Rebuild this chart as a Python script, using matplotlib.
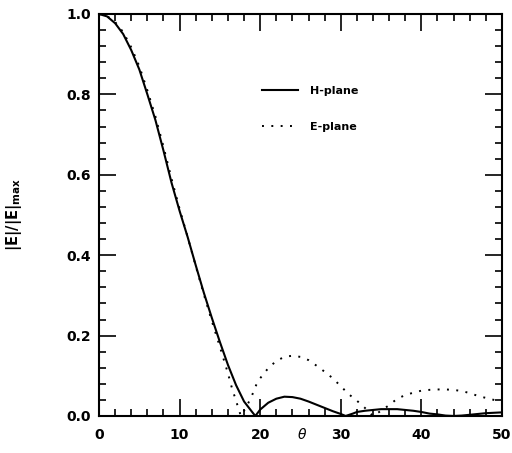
import matplotlib
matplotlib.use("Agg")
import matplotlib.pyplot as plt
import matplotlib.transforms as mtransforms
from matplotlib.ticker import MultipleLocator, FormatStrFormatter


# values (theta in degrees)
theta_h = [0, 1, 2, 3, 4, 5, 6, 7, 8, 9, 10, 11, 12, 13, 14, 15, 16, 17, 18, 19, 19.4,
           20, 21, 22, 23, 24, 25, 26, 27, 28, 29, 30, 30.6, 31.5, 32, 33, 34, 35, 36,
           37, 38, 39, 40, 41, 42, 43, 44, 45, 46, 47, 48, 49, 50]
h_plane = [1.0, 0.994, 0.977, 0.950, 0.910, 0.862, 0.800, 0.736, 0.660, 0.580, 0.510,
           0.445, 0.375, 0.307, 0.244, 0.184, 0.127, 0.077, 0.036, 0.010, 0.0,
           0.016, 0.033, 0.043, 0.048, 0.047, 0.043, 0.036, 0.028, 0.020, 0.012, 0.005,
           0.0, 0.006, 0.010, 0.013, 0.015, 0.017, 0.017, 0.017, 0.015, 0.013, 0.010,
           0.006, 0.004, 0.001, 0.0, 0.001, 0.003, 0.005, 0.007, 0.008, 0.009]

theta_e = [0, 1, 2, 3, 4, 5, 6, 7, 8, 9, 10, 11, 12, 13, 14, 15, 16, 16.5, 17, 17.6,
           18.3, 19, 19.5, 20, 21, 22, 23, 24, 25, 26, 27, 28, 29, 30, 31, 32, 33, 34,
           35, 36, 37, 38, 39, 40, 41, 42, 43, 44, 45, 46, 47, 48, 49, 50]
e_plane = [1.0, 0.995, 0.980, 0.955, 0.917, 0.870, 0.810, 0.745, 0.670, 0.590, 0.515,
           0.445, 0.373, 0.303, 0.236, 0.172, 0.106, 0.069, 0.038, 0.0,
           0.023, 0.052, 0.077, 0.094, 0.119, 0.137, 0.147, 0.150, 0.147, 0.139, 0.125,
           0.110, 0.094, 0.074, 0.054, 0.038, 0.020, 0.0,
           0.013, 0.027, 0.043, 0.052, 0.058, 0.063, 0.065, 0.066, 0.066, 0.065, 0.062,
           0.057, 0.050, 0.045, 0.040, 0.035]

x_ticks = [0, 10, 20, 30, 40, 50]
y_ticks = [0.0, 0.2, 0.4, 0.6, 0.8, 1.0]


def main():
    fig = plt.figure(figsize=(5.12, 4.53), dpi=100)
    ax = fig.add_axes([0.1934, 0.0817, 0.787, 0.8874])

    ax.plot(theta_h, h_plane, color="black", lw=1.5, label="H-plane")
    ax.plot(theta_e, e_plane, color="black", lw=1.4, linestyle=(0, (1, 3.8)),
            label="E-plane")

    ax.set_xlim(0, 50)
    ax.set_ylim(0, 1.0)
    ax.set_xticks(x_ticks)
    ax.set_yticks(y_ticks)
    ax.xaxis.set_minor_locator(MultipleLocator(2))
    ax.yaxis.set_minor_locator(MultipleLocator(0.04))
    ax.yaxis.set_major_formatter(FormatStrFormatter("%.1f"))

    #ticks on all four sides, pointing in
    ax.tick_params(which="both", direction="in", top=True, right=True, width=1.2)
    ax.tick_params(which="major", length=12.5)
    ax.tick_params(which="minor", length=5)
    ax.tick_params(axis="x", pad=8.5)
    ax.tick_params(axis="y", pad=6)
    for lab in ax.get_xticklabels() + ax.get_yticklabels():
        lab.set_fontsize(10)
        lab.set_fontweight("bold")
    for sp in ax.spines.values():
        sp.set_linewidth(1.5)

    ax.set_ylabel(r"|E|/|E|$_{\mathbf{max}}$", fontsize=10.5, fontweight="bold")
    ax.yaxis.set_label_coords(-0.185, 0.5)

    # theta sits in the tick label row
    trans = mtransforms.blended_transform_factory(ax.transData, ax.transAxes)
    ax.text(25.2, -0.047, r"$\theta$", transform=trans, ha="center", va="center",
            fontsize=10)

    ax.legend(loc="upper left", bbox_to_anchor=(0.404, 0.82), frameon=False,
              borderpad=0, borderaxespad=0, handlelength=3.25, handletextpad=1.1,
              labelspacing=2.3, prop={"size": 8, "weight": "bold"})

    fig.savefig("out.png", dpi=100)


if __name__ == "__main__":
    main()
